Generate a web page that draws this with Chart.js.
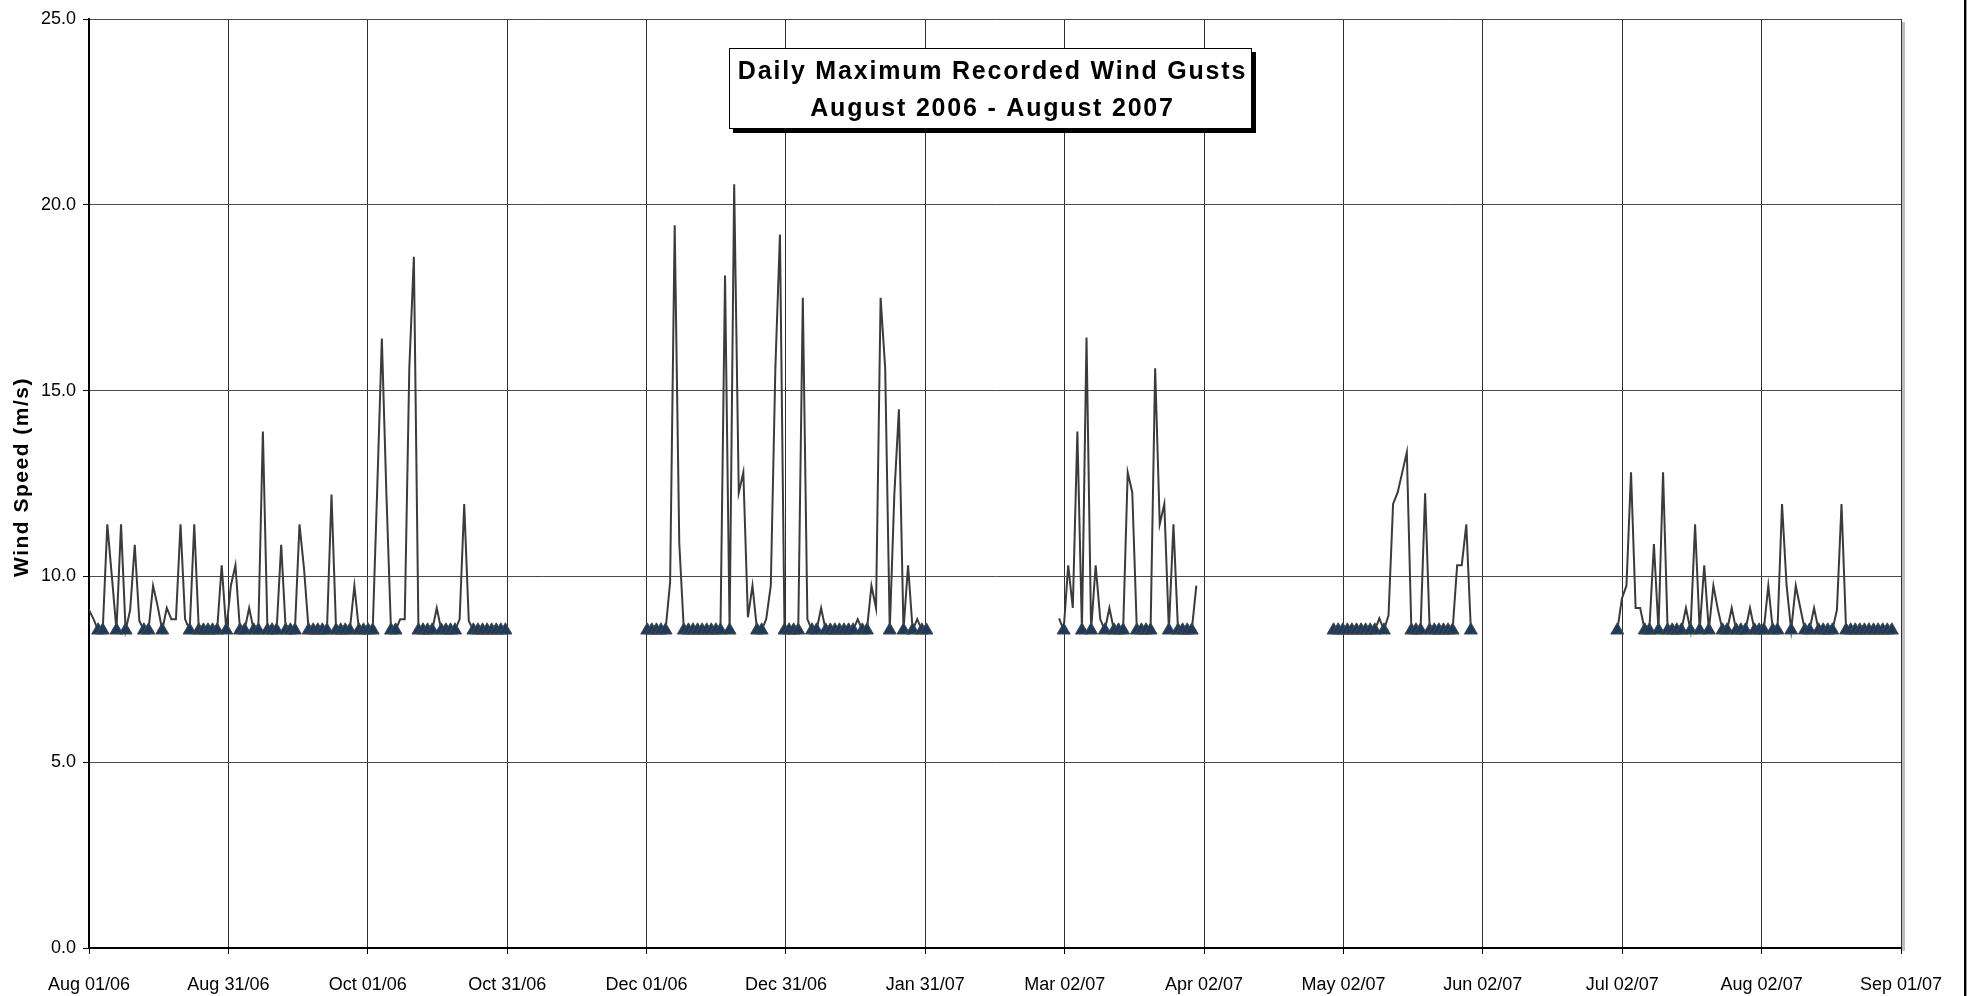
<!DOCTYPE html>
<html>
<head>
<meta charset="utf-8">
<script src="https://cdn.jsdelivr.net/npm/chart.js@4.4.0/dist/chart.umd.min.js"></script>
<style>
html,body{margin:0;padding:0;background:#ffffff;overflow:hidden}
#wrap{position:relative;width:1977px;height:996px;background:#fff}
canvas{display:block}
</style>
</head>
<body>
<div id="wrap"><canvas id="c" width="1977" height="996"></canvas></div>
<script>
// ---- data (day offsets counted from Aug 01 2006) ----
const totalDays = 396;
const xTickLabels = ['Aug 01/06','Aug 31/06','Oct 01/06','Oct 31/06','Dec 01/06','Dec 31/06','Jan 31/07','Mar 02/07','Apr 02/07','May 02/07','Jun 02/07','Jul 02/07','Aug 02/07','Sep 01/07'];
const yTickValues = [0, 5, 10, 15, 20, 25];
const calmValue = 8.55;
const periodStartDays = [0, 122, 212, 272, 334];

const gustsAugOct06 = [
  9.1, 8.85, 8.55, 8.55, 11.4, 10.0, 8.55, 11.4, 8.55, 9.1,
  10.85, 8.8, 8.55, 8.55, 9.75, 9.2, 8.55, 9.15, 8.85, 8.85,
  11.4, 8.85, 8.55, 11.4, 8.55, 8.55, 8.55, 8.55, 8.55, 10.3,
  8.55, 9.75, 10.3, 8.55, 8.55, 9.15, 8.55, 8.55, 13.9, 8.55,
  8.55, 8.55, 10.85, 8.55, 8.55, 8.55, 11.4, 10.2, 8.55, 8.55,
  8.55, 8.55, 8.55, 12.2, 8.55, 8.55, 8.55, 8.55, 9.75, 8.55,
  8.55, 8.55, 8.55, 12.4, 16.4, 12.2, 8.55, 8.55, 8.85, 8.85,
  15.6, 18.6, 8.55, 8.55, 8.55, 8.55, 9.15, 8.55, 8.55, 8.55,
  8.55, 8.85, 11.95, 8.8, 8.55, 8.55, 8.55, 8.55, 8.55, 8.55,
  8.55, 8.55
];
const gustsDecJan07 = [
  8.55, 8.55, 8.55, 8.55, 8.55, 9.85, 19.45, 10.9, 8.55, 8.55,
  8.55, 8.55, 8.55, 8.55, 8.55, 8.55, 8.55, 18.1, 8.55, 20.55,
  12.25, 12.8, 8.9, 9.75, 8.55, 8.55, 8.85, 9.75, 15.6, 19.2,
  8.55, 8.55, 8.55, 8.55, 17.5, 8.85, 8.55, 8.55, 9.15, 8.55,
  8.55, 8.55, 8.55, 8.55, 8.55, 8.55, 8.85, 8.55, 8.55, 9.75,
  9.15, 17.5, 15.6, 8.55, 12.2, 14.5, 8.55, 10.3, 8.55, 8.85,
  8.55, 8.55
];
const gustsMar07 = [
  8.87, 8.55, 10.3, 9.15, 13.9, 8.55, 16.43, 8.55, 10.3, 8.85,
  8.55, 9.15, 8.55, 8.55, 8.55, 12.8, 12.26, 8.55, 8.55, 8.55,
  8.55, 15.6, 11.4, 11.95, 8.55, 11.4, 8.55, 8.55, 8.55, 8.55,
  9.75
];
const gustsMay07 = [
  8.55, 8.55, 8.55, 8.55, 8.55, 8.55, 8.55, 8.55, 8.55, 8.55,
  8.87, 8.55, 8.95, 11.95, 12.26, 12.8, 13.34, 8.55, 8.55, 8.55,
  12.24, 8.55, 8.55, 8.55, 8.55, 8.55, 8.55, 10.3, 10.3, 11.4,
  8.55
];
const gustsJulAug07 = [
  8.55, 9.4, 9.75, 12.8, 9.15, 9.15, 8.55, 8.55, 10.87, 8.55,
  12.8, 8.55, 8.55, 8.55, 8.55, 9.15, 8.55, 11.4, 8.55, 10.3,
  8.55, 9.75, 9.1, 8.55, 8.55, 9.15, 8.55, 8.55, 8.55, 9.15,
  8.55, 8.55, 8.55, 9.75, 8.55, 8.55, 11.95, 9.75, 8.55, 9.75,
  9.15, 8.55, 8.55, 9.15, 8.55, 8.55, 8.55, 8.55, 9.1, 11.95,
  8.55, 8.55, 8.55, 8.55, 8.55, 8.55, 8.55, 8.55, 8.55, 8.55,
  8.55
];
const chartTitleLines = ['Daily Maximum Recorded Wind Gusts', 'August 2006 - August 2007'];
const yAxisTitle = 'Wind Speed (m/s)';

// ---- build datasets ----
const periods = [gustsAugOct06, gustsDecJan07, gustsMar07, gustsMay07, gustsJulAug07];
const linePts = [];
const calmPts = [];
periods.forEach((vals, p) => {
  if (p > 0) linePts.push({x: periodStartDays[p] - 0.5, y: null});
  vals.forEach((v, i) => {
    const d = periodStartDays[p] + i;
    linePts.push({x: d, y: v});
    if (v === calmValue) calmPts.push({x: d, y: v});
  });
});

const FONT = '"Liberation Sans", Arial, Helvetica, sans-serif';

const decor = {
  id: 'decor',
  afterDraw(chart) {
    const ctx = chart.ctx;
    const a = chart.chartArea;
    ctx.save();
    // plot area shadow on right
    ctx.fillStyle = '#bdbdbd';
    ctx.fillRect(a.right + 1, a.top + 3, 3, a.bottom - a.top);
    ctx.strokeStyle = '#303030';
    ctx.lineWidth = 1;
    ctx.beginPath(); ctx.moveTo(a.right + 0.5, a.top); ctx.lineTo(a.right + 0.5, a.bottom); ctx.stroke();
    // chart area outer border (right side)
    ctx.fillStyle = '#000';
    ctx.fillRect(1964, 0, 2, 996);
    ctx.fillStyle = '#9a9a9a';
    ctx.fillRect(1966, 0, 1, 996);

    // title box
    const bx = 729, by = 48, bw = 523, bh = 81;
    ctx.fillStyle = '#000';
    ctx.fillRect(bx + 4, by + 4, bw, bh);
    ctx.fillStyle = '#fff';
    ctx.fillRect(bx, by, bw, bh);
    ctx.strokeStyle = '#000';
    ctx.lineWidth = 1;
    ctx.strokeRect(bx + 0.5, by + 0.5, bw - 1, bh - 1);
    ctx.fillStyle = '#000';
    ctx.font = 'bold 25px ' + FONT;
    ctx.textAlign = 'center';
    ctx.textBaseline = 'middle';
    if ('letterSpacing' in ctx) ctx.letterSpacing = '1.8px';
    ctx.fillText(chartTitleLines[0], bx + bw / 2 + 2, 72);
    ctx.fillText(chartTitleLines[1], bx + bw / 2 + 2, 109);

    // y axis title
    if ('letterSpacing' in ctx) ctx.letterSpacing = '1.5px';
    ctx.font = 'bold 21px ' + FONT;
    ctx.translate(22, 477);
    ctx.rotate(-Math.PI / 2);
    ctx.fillText(yAxisTitle, 0, 0);
    ctx.restore();
  }
};

new Chart(document.getElementById('c'), {
  type: 'line',
  data: {
    datasets: [
      {
        label: 'Calm days',
        data: calmPts,
        showLine: false,
        pointStyle: 'triangle',
        pointRadius: 7.5,
        pointHoverRadius: 7.5,
        pointBackgroundColor: '#1c3a5c',
        pointBorderColor: '#474747',
        pointBorderWidth: 1
      },
      {
        label: 'Daily maximum gust',
        data: linePts,
        borderColor: '#3b3b3b',
        borderWidth: 2,
        pointRadius: 0,
        spanGaps: false,
        tension: 0
      }
    ]
  },
  options: {
    responsive: false,
    animation: false,
    events: [],
    plugins: { legend: { display: false }, tooltip: { enabled: false }, title: { display: false } },
    layout: { padding: { top: 19, right: 76, bottom: 0, left: 0 } },
    scales: {
      x: {
        type: 'linear',
        min: 0,
        max: totalDays,
        afterBuildTicks: s => { s.ticks = xTickLabels.map((l, i) => ({ value: i * totalDays / (xTickLabels.length - 1) })); },
        afterFit: s => { s.height = 48; },
        ticks: {
          autoSkip: false, maxRotation: 0, minRotation: 0, padding: 20,
          color: '#000', font: { family: FONT, size: 18 },
          callback: (v, i) => xTickLabels[i]
        },
        grid: { color: '#2e2e2e', lineWidth: 1, tickLength: 6, tickColor: '#000' },
        border: { color: '#000', width: 2 }
      },
      y: {
        min: 0,
        max: 25,
        afterBuildTicks: s => { s.ticks = yTickValues.map(v => ({ value: v })); },
        afterFit: s => { s.width = 89; },
        ticks: {
          padding: 7, color: '#000', font: { family: FONT, size: 18 },
          callback: v => Number(v).toFixed(1)
        },
        grid: { color: '#4a4a4a', lineWidth: 1, tickLength: 6, tickColor: '#000' },
        border: { color: '#000', width: 2 }
      }
    }
  },
  plugins: [decor]
});
</script>
</body>
</html>
